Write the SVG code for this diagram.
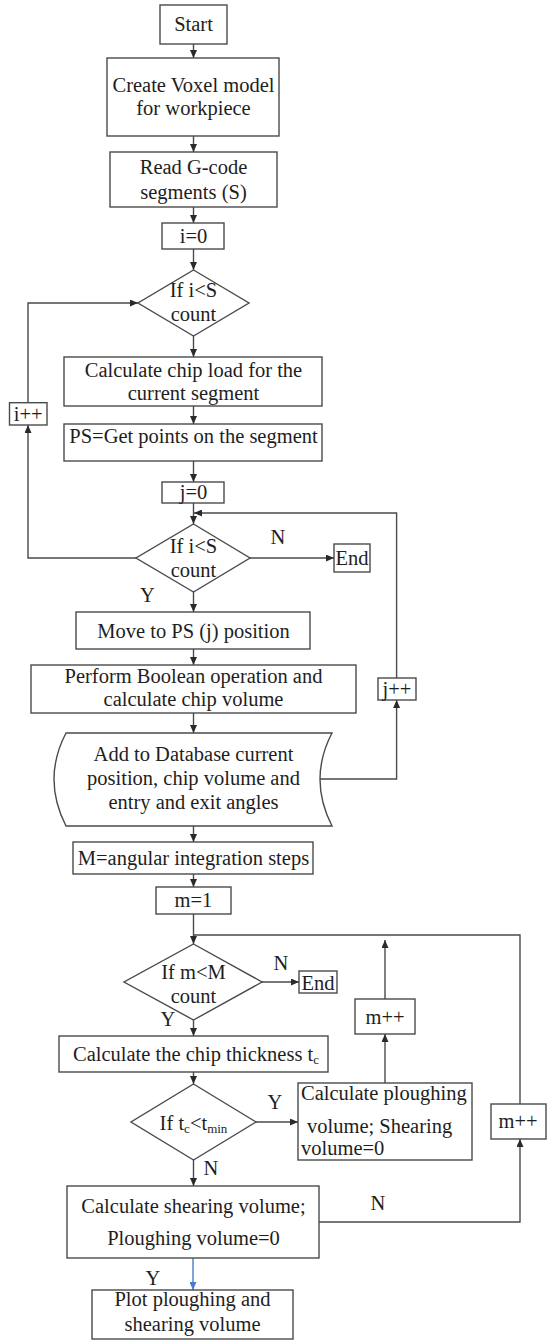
<svg xmlns="http://www.w3.org/2000/svg" width="547" height="1340" viewBox="0 0 547 1340">
<style>
  .box{fill:#fff;stroke:#4a4a4a;stroke-width:1.4}
  .ln{fill:none;stroke:#4a4a4a;stroke-width:1.4}
  .blue{fill:none;stroke:#4a7cc9;stroke-width:1.4}
  text{font-family:"Liberation Serif","Times New Roman",serif;font-size:20.5px;fill:#1e1e1e}
  .c{text-anchor:middle}
  .sub{font-size:13px}
</style>
<defs>
  <marker id="ah" markerUnits="userSpaceOnUse" markerWidth="8" markerHeight="7" refX="8" refY="3.5" orient="auto">
    <path d="M0,0 L8,3.5 L0,7 z" fill="#2a2a2a"/>
  </marker>
  <marker id="ahb" markerUnits="userSpaceOnUse" markerWidth="8" markerHeight="7" refX="8" refY="3.5" orient="auto">
    <path d="M0,0 L8,3.5 L0,7 z" fill="#4a7cc9"/>
  </marker>
</defs>

<g id="connectors">
  <path class="ln" d="M193.5,44 V58" marker-end="url(#ah)"/>
  <path class="ln" d="M193.5,136 V152" marker-end="url(#ah)"/>
  <path class="ln" d="M193.5,207 V223" marker-end="url(#ah)"/>
  <path class="ln" d="M193.5,249 V270" marker-end="url(#ah)"/>
  <path class="ln" d="M193.5,336 V357" marker-end="url(#ah)"/>
  <path class="ln" d="M193.5,406 V424" marker-end="url(#ah)"/>
  <path class="ln" d="M193.5,461 V482" marker-end="url(#ah)"/>
  <path class="ln" d="M193.5,503 V524" marker-end="url(#ah)"/>
  <path class="ln" d="M28,402.7 V303 H138" marker-end="url(#ah)"/>
  <path class="ln" d="M136,558 H28 V425" marker-end="url(#ah)"/>
  <path class="ln" d="M250,558 H334" marker-end="url(#ah)"/>
  <path class="ln" d="M193.5,592 V612" marker-end="url(#ah)"/>
  <path class="ln" d="M193.5,649 V665" marker-end="url(#ah)"/>
  <path class="ln" d="M193.5,713 V733" marker-end="url(#ah)"/>
  <path class="ln" d="M320,779 H396.6 V700" marker-end="url(#ah)"/>
  <path class="ln" d="M396.6,678 V513 H194" marker-end="url(#ah)"/>
  <path class="ln" d="M193.5,826 V842" marker-end="url(#ah)"/>
  <path class="ln" d="M193.5,874 V887" marker-end="url(#ah)"/>
  <path class="ln" d="M193.5,914 V944" marker-end="url(#ah)"/>
  <path class="ln" d="M193.5,935 H520 V1104"/>
  <path class="ln" d="M262,982 H299" marker-end="url(#ah)"/>
  <path class="ln" d="M193.5,1020 V1036" marker-end="url(#ah)"/>
  <path class="ln" d="M193.5,1072 V1084" marker-end="url(#ah)"/>
  <path class="ln" d="M256,1122 H298" marker-end="url(#ah)"/>
  <path class="ln" d="M385,1083 V1034" marker-end="url(#ah)"/>
  <path class="ln" d="M385,999 V940" marker-end="url(#ah)"/>
  <path class="ln" d="M193.5,1160 V1186" marker-end="url(#ah)"/>
  <path class="ln" d="M319,1222 H520 V1139" marker-end="url(#ah)"/>
  <path class="blue" d="M193,1258 V1290" marker-end="url(#ahb)"/>
  <text class="c" x="278" y="544">N</text>
  <text class="c" x="147.5" y="602">Y</text>
  <text class="c" x="281" y="970">N</text>
  <text class="c" x="168" y="1026">Y</text>
  <text class="c" x="275" y="1109">Y</text>
  <text class="c" x="211" y="1175">N</text>
  <text class="c" x="378" y="1210">N</text>
  <text class="c" x="153" y="1285">Y</text>
</g>

<g id="start">
  <rect class="box" x="160" y="5" width="67" height="39"/>
  <text class="c" x="193.5" y="31">Start</text>
</g>
<g id="voxel">
  <rect class="box" x="107" y="58" width="172" height="78"/>
  <text class="c" x="193.5" y="92">Create Voxel model</text>
  <text class="c" x="193.5" y="115">for workpiece</text>
</g>
<g id="gcode">
  <rect class="box" x="110" y="152" width="167" height="55"/>
  <text class="c" x="193.5" y="174">Read G-code</text>
  <text class="c" x="193.5" y="199">segments (S)</text>
</g>
<g id="i0">
  <rect class="box" x="162" y="223" width="62" height="26"/>
  <text class="c" x="193.5" y="243">i=0</text>
</g>
<g id="cond1">
  <polygon class="box" points="193.5,270 249,303 193.5,336 138,303"/>
  <text class="c" x="193.5" y="297">If i&lt;S</text>
  <text class="c" x="193.5" y="321">count</text>
</g>
<g id="iinc">
  <rect class="box" x="9.5" y="402.7" width="37.5" height="22.3"/>
  <text class="c" x="28.2" y="421">i++</text>
</g>
<g id="chipload">
  <rect class="box" x="64" y="357" width="258" height="49"/>
  <text class="c" x="193.5" y="377">Calculate chip load for the</text>
  <text class="c" x="193.5" y="400">current segment</text>
</g>
<g id="ps">
  <rect class="box" x="64" y="424" width="258" height="37"/>
  <text class="c" x="193.5" y="443">PS=Get points on the segment</text>
</g>
<g id="j0">
  <rect class="box" x="162" y="482" width="62" height="21"/>
  <text class="c" x="193.5" y="499">j=0</text>
</g>
<g id="cond2">
  <polygon class="box" points="193.5,524 250,558 193.5,592 136,558"/>
  <text class="c" x="193.5" y="553">If i&lt;S</text>
  <text class="c" x="193.5" y="577">count</text>
</g>
<g id="end1">
  <rect class="box" x="334" y="544" width="36" height="28"/>
  <text class="c" x="352" y="565">End</text>
</g>
<g id="move">
  <rect class="box" x="76" y="612" width="234" height="37"/>
  <text class="c" x="193.5" y="638">Move to PS (j) position</text>
</g>
<g id="boolean">
  <rect class="box" x="31" y="665" width="325" height="48"/>
  <text class="c" x="193.5" y="683">Perform Boolean operation and</text>
  <text class="c" x="193.5" y="706">calculate chip volume</text>
</g>
<g id="jinc">
  <rect class="box" x="378" y="678" width="38" height="22"/>
  <text class="c" x="397" y="696">j++</text>
</g>
<g id="database">
  <path class="box" d="M66,733 H332 Q308,779 332,826 H66 Q42,779 66,733 Z"/>
  <text class="c" x="193.5" y="761">Add to Database current</text>
  <text class="c" x="193.5" y="785">position, chip volume and</text>
  <text class="c" x="193.5" y="809">entry and exit angles</text>
</g>
<g id="msteps">
  <rect class="box" x="73" y="842" width="240" height="32"/>
  <text class="c" x="193.5" y="865">M=angular integration steps</text>
</g>
<g id="m1">
  <rect class="box" x="156" y="887" width="75" height="27"/>
  <text class="c" x="193.5" y="907">m=1</text>
</g>
<g id="cond3">
  <polygon class="box" points="193.5,944 262,982 193.5,1020 124,982"/>
  <text class="c" x="193.5" y="979">If m&lt;M</text>
  <text class="c" x="193.5" y="1003">count</text>
</g>
<g id="end2">
  <rect class="box" x="299" y="971" width="38" height="22"/>
  <text class="c" x="318" y="990">End</text>
</g>
<g id="thickness">
  <rect class="box" x="59" y="1036" width="269" height="36"/>
  <text class="c" x="196" y="1061">Calculate the chip thickness t<tspan class="sub" dy="3">c</tspan></text>
</g>
<g id="cond4">
  <polygon class="box" points="193.5,1084 256,1122 193.5,1160 131,1122"/>
  <text class="c" x="193.5" y="1130">If t<tspan class="sub" dy="3">c</tspan><tspan dy="-3">&lt;t</tspan><tspan class="sub" dy="3">min</tspan></text>
</g>
<g id="ploughing">
  <rect class="box" x="298" y="1083" width="174" height="77"/>
  <text x="301" y="1100">Calculate ploughing</text>
  <text x="307" y="1133">volume; Shearing</text>
  <text x="301" y="1155">volume=0</text>
</g>
<g id="minc1">
  <rect class="box" x="355" y="999" width="60" height="35"/>
  <text class="c" x="385" y="1024">m++</text>
</g>
<g id="minc2">
  <rect class="box" x="491" y="1104" width="55" height="35"/>
  <text class="c" x="518" y="1128">m++</text>
</g>
<g id="shearing">
  <rect class="box" x="67" y="1186" width="252" height="72"/>
  <text class="c" x="193.5" y="1213">Calculate shearing volume;</text>
  <text class="c" x="193.5" y="1245">Ploughing volume=0</text>
</g>
<g id="plot">
  <rect class="box" x="92" y="1290" width="201" height="49"/>
  <text class="c" x="192.5" y="1306">Plot ploughing and</text>
  <text class="c" x="192.5" y="1331">shearing volume</text>
</g>
</svg>
